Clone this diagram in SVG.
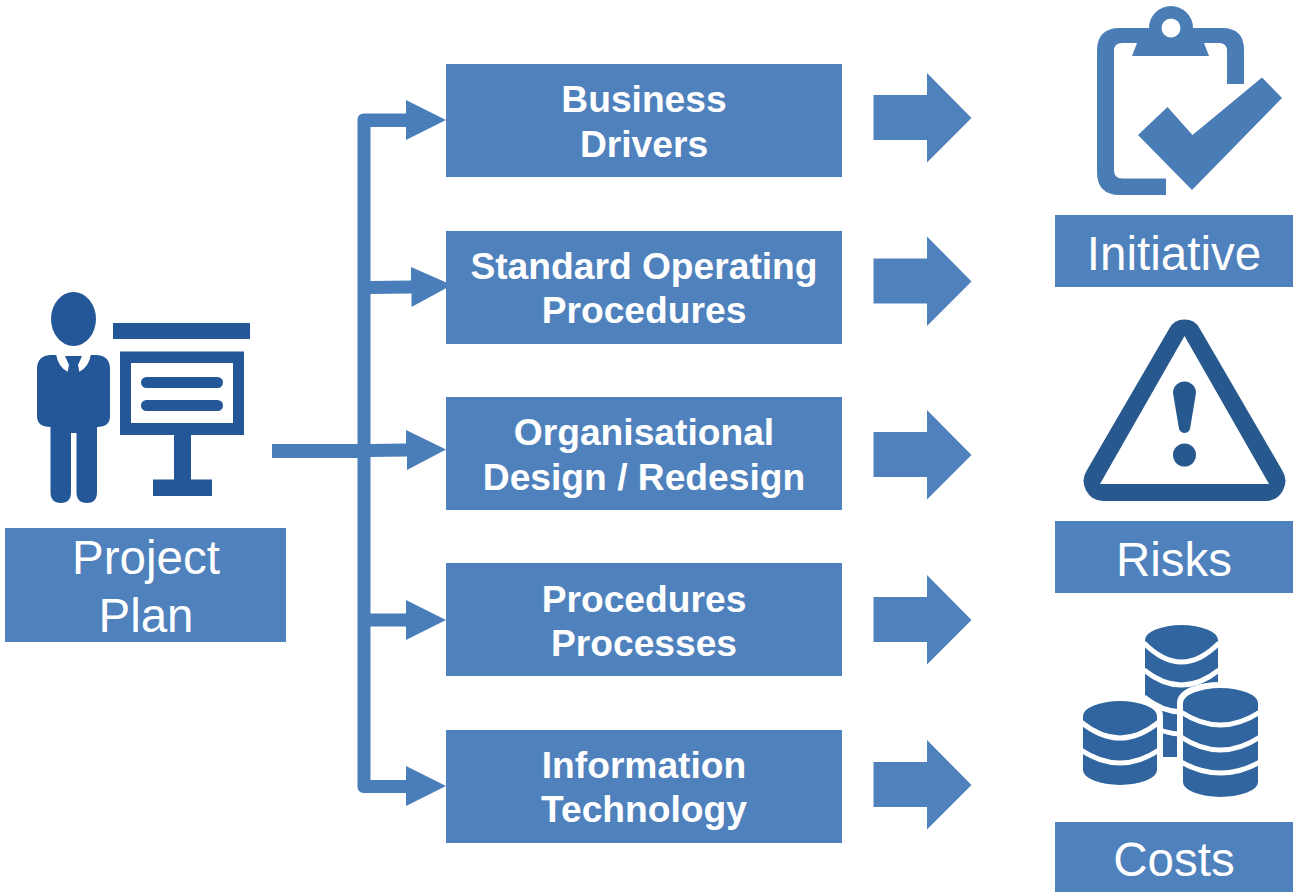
<svg xmlns="http://www.w3.org/2000/svg" width="1293" height="892" viewBox="0 0 1293 892">
<style>
.box{fill:#4f81bd}
.conn{fill:#4a7ebb}
.person{fill:#235797}
.dark{fill:#27598f}
.mid{fill:#4a7cb5}
.coin{fill:#31659f}
.b{font:bold 37.2px "Liberation Sans",Arial,sans-serif;fill:#fff;text-anchor:middle}
.r{font:47.5px "Liberation Sans",Arial,sans-serif;fill:#fff;text-anchor:middle}
.gap{fill:#fff}
.band{fill:none;stroke:#fff;stroke-width:5}
</style>
<defs>
<path id="block" d="M873.5 95H927V73L971.500 118L927 162.500V140H873.500Z" class="box"/>
</defs>
<rect width="1293" height="892" fill="#fff"/>
<g id="connectors">
<path class="conn" d="M272 444H357.500V120Q357.500 113.500 364 113.500H406V100L446 120L406 140V127H370.500V281L411 280.500V267L452 285L411.500 307V293.500L370.500 294V444L406 443.500V430L446 449.500L407 470V456.500L370.500 457V613.500H406V600L446 620L406 640V626.500H370.500V780H406V766L446 786L406 806V793H364Q357.500 793 357.500 786.500V458H272Z"/>
<use href="#block"/>
<use href="#block" y="163.500"/>
<use href="#block" y="337"/>
<use href="#block" y="502"/>
<use href="#block" y="667"/>
</g>
<g id="project-plan">
<g class="person">
<ellipse cx="73.500" cy="319" rx="22.500" ry="27"/>
<path d="M50 355H97Q110 356 110 369V416Q110 427 97 427V492Q97 503 87 503Q76.500 503 76.500 492V433H71V492Q71 503 61 503Q50.500 503 50.500 492V427Q37 427 37 416V369Q37 356 50 355Z"/>
<rect x="113" y="323" width="137" height="16"/>
<path fill-rule="evenodd" d="M120 351.500H244V435H191V479.500H212V496H153V479.500H174V435H120ZM131 363V423H233V363Z"/>
<rect x="141" y="377" width="82" height="11" rx="5.500"/>
<rect x="141" y="400" width="82" height="11" rx="5.500"/>
</g>
<path class="gap" d="M56 354H91Q89 367 79 372L68 372Q58 367 56 354Z"/>
<path class="person" d="M65 356H82L78 365L80 375L73.500 378L67 375L69 365Z"/>
<rect class="box" x="5" y="528" width="281" height="114"/>
<text class="r" x="146" y="574">Project</text>
<text class="r" x="146" y="632">Plan</text>
</g>
<g id="business-drivers">
<rect class="box" x="446" y="64" width="396" height="113"/>
<text class="b" x="644" y="112">Business</text>
<text class="b" x="644" y="157">Drivers</text>
</g>
<g id="standard-operating-procedures">
<rect class="box" x="446" y="231" width="396" height="113"/>
<text class="b" x="644" y="279">Standard Operating</text>
<text class="b" x="644" y="323">Procedures</text>
</g>
<g id="organisational-design">
<rect class="box" x="446" y="397" width="396" height="113"/>
<text class="b" x="644" y="445">Organisational</text>
<text class="b" x="644" y="490">Design / Redesign</text>
</g>
<g id="procedures-processes">
<rect class="box" x="446" y="563" width="396" height="113"/>
<text class="b" x="644" y="612">Procedures</text>
<text class="b" x="644" y="656">Processes</text>
</g>
<g id="information-technology">
<rect class="box" x="446" y="730" width="396" height="113"/>
<text class="b" x="644" y="778">Information</text>
<text class="b" x="644" y="822">Technology</text>
</g>
<g id="initiative">
<g class="mid">
<path fill-rule="evenodd" d="M1149 28A22 22 0 0 1 1193 28H1222Q1244 28 1244 50V84H1227V51Q1227 43 1219 43H1204L1209 56H1132L1137 43H1122Q1114 43 1114 51V170Q1114 178.500 1122 178.500H1166V195H1120Q1097 195 1097 172V51Q1097 28 1120 28ZM1171 18.500A9.500 9.500 0 1 0 1171 37.500A9.500 9.500 0 1 0 1171 18.500Z"/>
<path d="M1167.500 107L1192.500 135L1262 77.500L1282 98L1192 190L1138 135Z"/>
</g>
<rect class="box" x="1055" y="215" width="238" height="72"/>
<text class="r" x="1174" y="270">Initiative</text>
</g>
<g id="risks">
<path class="dark" fill-rule="evenodd" d="M1169 329A17.500 17.500 0 0 1 1200 329L1282 470A20 20 0 0 1 1266 501H1103A20 20 0 0 1 1087 470ZM1184.500 336L1100 484H1269Z"/>
<path class="dark" d="M1173 393A11.500 11.500 0 0 1 1196 393L1190.500 426Q1190 433 1184.500 433Q1179 433 1178.500 426Z"/>
<circle class="dark" cx="1184.500" cy="455" r="11.500"/>
<rect class="box" x="1055" y="521" width="238" height="72"/>
<text class="r" x="1174" y="576">Risks</text>
</g>
<g id="costs">
<path class="coin" d="M1145 640A36.500 15 0 0 1 1218 640V757H1145Z"/>
<path class="band" d="M1144 643Q1181.500 681 1219 643M1144 670Q1181.500 700 1219 670M1144 697Q1181.500 727 1219 697M1144 722Q1181.500 746 1219 722"/>
<g class="coin" stroke="#fff" stroke-width="12" paint-order="stroke">
<path d="M1083 716A37 15 0 0 1 1157 716V770A37 15 0 0 1 1083 770Z"/>
<path d="M1183 703A37.500 15 0 0 1 1258 703V782A37.500 15 0 0 1 1183 782Z"/>
</g>
<path class="band" d="M1081 722Q1120 754 1159 722M1081 750Q1120 776 1159 750"/>
<path class="band" d="M1181 712Q1220.500 738 1260 712M1181 737Q1220.500 763 1260 737M1181 762Q1220.500 784 1260 762"/>
<rect class="box" x="1055" y="822" width="238" height="70"/>
<text class="r" x="1174" y="876">Costs</text>
</g>
</svg>
